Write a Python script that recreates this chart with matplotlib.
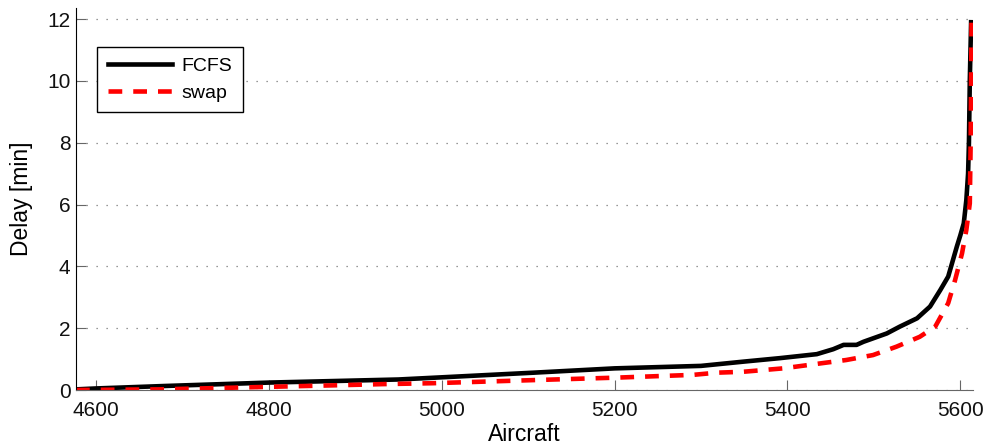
import matplotlib.pyplot as plt

plt.rcParams['font.family'] = ['Liberation Sans', 'DejaVu Sans']

# FCFS delay per aircraft (sorted)
fcfs_x = [4577, 4600, 4680, 4800, 4950, 5000, 5106, 5200, 5300, 5350, 5391, 5434,
          5453, 5465, 5480, 5488, 5515, 5530, 5550, 5565, 5577, 5586, 5596, 5600,
          5604, 5607, 5609, 5610, 5611, 5612.5]
fcfs_y = [0.02, 0.05, 0.13, 0.24, 0.34, 0.41, 0.56, 0.70, 0.78, 0.92, 1.03, 1.16,
          1.32, 1.46, 1.46, 1.56, 1.83, 2.05, 2.32, 2.70, 3.24, 3.67, 4.64, 5.0,
          5.39, 6.15, 7.0, 8.0, 10.0, 11.9]

# swap delay per aircraft (sorted)
swap_x = [4577, 4674, 4782, 4874, 4932, 4990, 5106, 5202, 5291, 5318, 5349, 5395,
          5438, 5468, 5499, 5526, 5553, 5571, 5586, 5594, 5602, 5607, 5611, 5612, 5613]
swap_y = [0.0, 0.02, 0.09, 0.15, 0.19, 0.22, 0.32, 0.40, 0.49, 0.56, 0.59, 0.70,
          0.86, 0.97, 1.13, 1.40, 1.72, 2.05, 2.81, 3.56, 4.42, 5.18, 6.04, 8.0, 11.9]

xticks = [4600, 4800, 5000, 5200, 5400, 5600]
yticks = [0, 2, 4, 6, 8, 10, 12]

fig = plt.figure(figsize=(9.89, 4.48), dpi=100)
ax = fig.add_axes([76 / 989, 58 / 448, 897 / 989, 382 / 448])

ax.plot(fcfs_x, fcfs_y, color='black', lw=3.3, label='FCFS', solid_joinstyle='round')
ax.plot(swap_x, swap_y, color='red', lw=3.3, ls=(0, (3.0, 2.4)), label='swap')

ax.set_xlim(4577, 5614.7)
ax.set_ylim(0, 12.36)
ax.set_xticks(xticks)
ax.set_yticks(yticks)
ax.grid(axis='y', ls=(0, (1, 7)), color='#777777', lw=0.9)
ax.set_axisbelow(True)

for s in ['top', 'right']:
    ax.spines[s].set_visible(False)
ax.spines['left'].set_color('black')
ax.spines['bottom'].set_color('#666666')
ax.tick_params(direction='in', length=7, color='#666666', labelsize=15, labelcolor='#111111')
ax.tick_params(axis='x', pad=8)
ax.tick_params(axis='y', pad=4)

ax.set_xlabel('Aircraft', fontsize=16.5, labelpad=2)
ax.set_ylabel('Delay [min]', fontsize=16.5, labelpad=10)

leg = ax.legend(loc='upper left', bbox_to_anchor=(0.0234, 0.898), borderaxespad=0,
                fontsize=14, fancybox=False, handlelength=3.3, framealpha=1,
                borderpad=0.55, labelspacing=0.45, handletextpad=0.5)
leg.get_frame().set_edgecolor('black')
leg.get_frame().set_linewidth(1.0)

fig.savefig('out.png', dpi=100)
